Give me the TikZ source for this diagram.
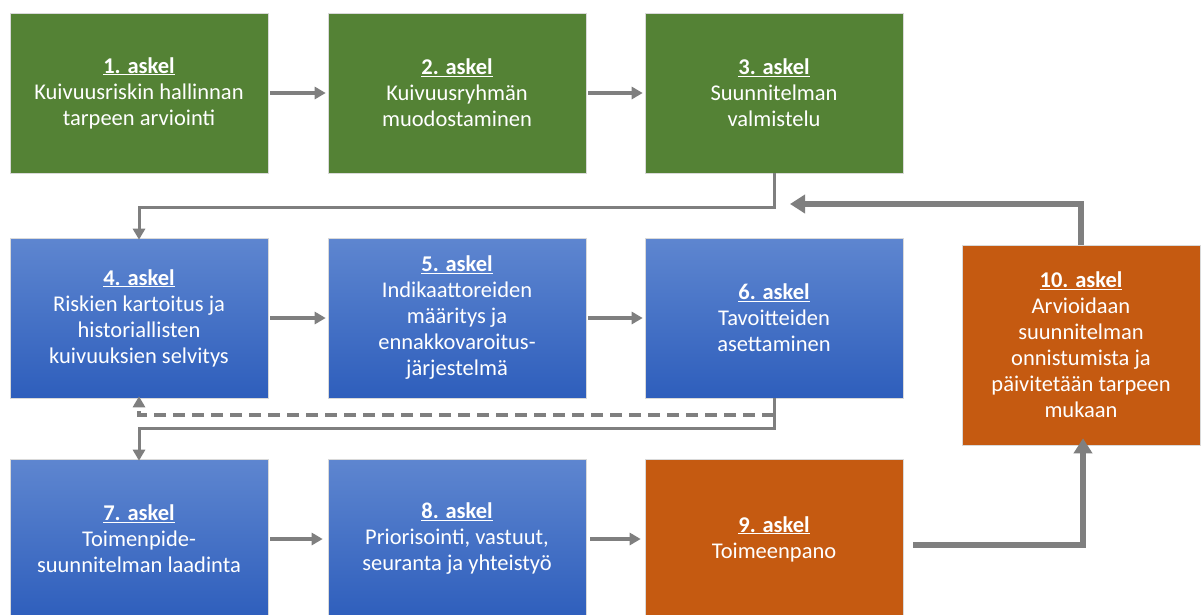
\documentclass[tikz,border=0pt]{standalone}
\usepackage{fontspec}
\setmainfont{Carlito}
\usetikzlibrary{arrows.meta,calc}

\definecolor{stepgreen}{RGB}{84,130,53}
\definecolor{stepblueT}{RGB}{94,134,208}
\definecolor{stepblueB}{RGB}{46,94,188}
\definecolor{steporange}{RGB}{197,90,17}
\definecolor{linkgray}{RGB}{127,127,127}

\newcommand{\stephead}[1]{\textbf{\underline{#1}}}

\tikzset{
  stepbox/.style={minimum width=258pt, minimum height=160pt, inner sep=0pt,
    align=center, text=white, draw=white!85!black, line width=0.6pt,
    font=\fontsize{22.5}{26}\selectfont},
  greenbox/.style={stepbox, fill=stepgreen},
  bluebox/.style={stepbox, top color=stepblueT, bottom color=stepblueB},
  orangebox/.style={stepbox, fill=steporange},
  link/.style={draw=linkgray, line width=3.5pt,
    -{Triangle[width=12pt,length=11pt]}},
  linkthin/.style={draw=linkgray, line width=3pt,
    -{Triangle[width=12pt,length=11pt]}},
  linkbold/.style={draw=linkgray, line width=5.5pt,
    -{Triangle[width=18pt,length=15pt]}},
  linkdash/.style={draw=linkgray, line width=4pt, dash pattern=on 12pt off 7pt,
    -{Triangle[width=12pt,length=11pt]}},
}

\begin{document}
\begin{tikzpicture}[x=1pt,y=-1pt]
\useasboundingbox (0,0) rectangle (1201,614);
\clip (0,0) rectangle (1201,614);

% first row
\node[greenbox] (b1) at (139,93) {\stephead{1. askel}\\Kuivuusriskin hallinnan\\tarpeen arviointi};
\node[greenbox] (b2) at (457,93) {\stephead{2. askel}\\Kuivuusryhmän\\muodostaminen};
\node[greenbox] (b3) at (774,93) {\stephead{3. askel}\\Suunnitelman\\valmistelu};

% second row
\node[bluebox] (b4) at (139,318) {\stephead{4. askel}\\Riskien kartoitus ja\\historiallisten\\kuivuuksien selvitys};
\node[bluebox] (b5) at (457,318) {\stephead{5. askel}\\Indikaattoreiden\\määritys ja\\ennakkovaroitus-\\järjestelmä};
\node[bluebox] (b6) at (774,318) {\stephead{6. askel}\\Tavoitteiden\\asettaminen};

% third row
\node[bluebox] (b7) at (139,539) {\stephead{7. askel}\\Toimenpide-\\suunnitelman laadinta};
\node[bluebox] (b8) at (457,539) {\stephead{8. askel}\\Priorisointi, vastuut,\\seuranta ja yhteistyö};
\node[orangebox] (b9) at (774,539) {\stephead{9. askel}\\Toimeenpano};

% evaluation step
\node[orangebox, minimum width=238pt, minimum height=200pt] (b10) at (1081,345)
  {\stephead{10. askel}\\Arvioidaan\\suunnitelman\\onnistumista ja\\päivitetään tarpeen\\mukaan};

% straight links within rows
\draw[link] ([xshift=2pt]b1.east) -- ([xshift=-2pt]b2.west);
\draw[link] ([xshift=2pt]b2.east) -- ([xshift=-2pt]b3.west);
\draw[link] ([xshift=2pt]b4.east) -- ([xshift=-2pt]b5.west);
\draw[link] ([xshift=2pt]b5.east) -- ([xshift=-2pt]b6.west);
\draw[link] ([xshift=2pt]b7.east) -- ([xshift=-5pt]b8.west);
\draw[link] ([xshift=4pt]b8.east) -- ([xshift=-4pt]b9.west);

% row changes
\draw[linkthin] (b3.south) -- ++(0,34) -| ([yshift=-2pt]b4.north);
\draw[linkthin] (b6.south) -- ++(0,30) -| ([yshift=-2pt]b7.north);
\coordinate (back) at ($(b6.south)+(0,17)$);
\draw[linkdash] (back) -| ([yshift=2pt]b4.south);

% feedback loop
\coordinate (ret) at (790,204);
\draw[linkbold] ($(b9.east)+(10,6)$) -| ([xshift=2pt,yshift=7pt]b10.south);
\draw[linkbold] (b10.north) |- (ret);
\end{tikzpicture}
\end{document}
